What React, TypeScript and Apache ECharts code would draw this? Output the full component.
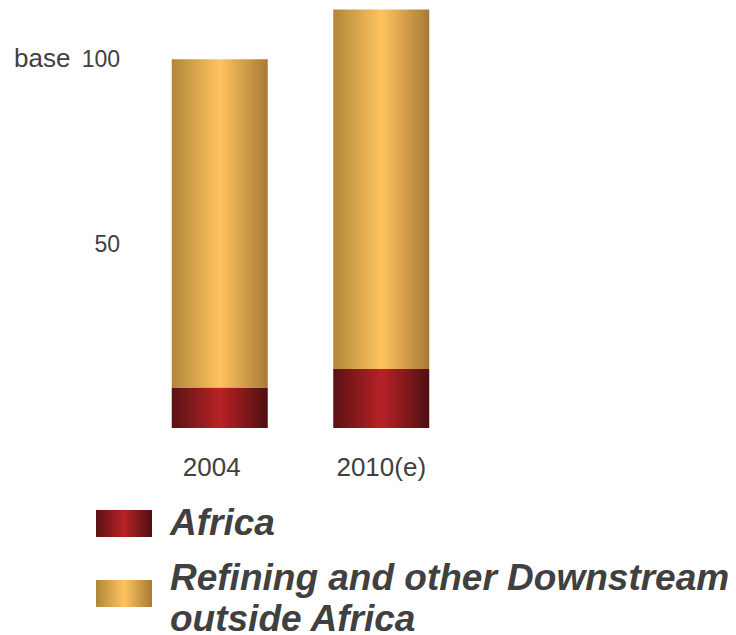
import React, { useEffect, useRef } from "react";
import * as echarts from "echarts";

const categories = ["2004", "2010(e)"];
const africaValues = [11, 16];
const downstreamValues = [89, 97.5];
const yTickLabels = [50, 100];
const legendNames = ["Africa", "Refining and other Downstream\noutside Africa"];

const redStops = ["#5a1214", "#b82226", "#4f0f11"];
const goldStops = ["#b08639", "#ffc35f", "#a77a34"];

function grad(stops: string[]) {
  return new echarts.graphic.LinearGradient(0, 0, 1, 0, [
    { offset: 0, color: stops[0] },
    { offset: 0.5, color: stops[1] },
    { offset: 1, color: stops[2] },
  ]);
}

export default function App() {
  const ref = useRef<HTMLDivElement>(null);
  useEffect(() => {
    if (!ref.current) return;
    const chart = echarts.init(ref.current, null, { renderer: "svg" });
    const font = "Liberation Sans";
    const textColor = "#404040";
    const legendText = (text: string, y: number) => ({
      type: "text",
      x: 170,
      y,
      style: {
        text,
        fontSize: 37,
        fontWeight: "bold",
        fontStyle: "italic",
        fontFamily: font,
        fill: textColor,
        verticalAlign: "middle",
      },
    });
    const secondLines = legendNames[1].split("\n");
    chart.setOption({
      animation: false,
      grid: { left: 139, right: 274, top: 4, bottom: 207, containLabel: false },
      xAxis: {
        type: "category",
        data: categories,
        axisLine: { show: false },
        axisTick: { show: false },
        axisLabel: {
          interval: 0,
          hideOverlap: false,
          color: textColor,
          fontSize: 26,
          fontFamily: font,
          margin: 26,
          formatter: (v: string, i: number) => (i === 0 ? `{a|${v}}` : `{b|${v}}`),
          rich: {
            a: { fontSize: 26, fontFamily: font, color: textColor, padding: [0, 16, 0, 0] },
            b: { fontSize: 26, fontFamily: font, color: textColor },
          },
        },
      },
      yAxis: {
        type: "value",
        min: 0,
        max: 115,
        interval: 50,
        splitLine: { show: false },
        axisLine: { show: false },
        axisTick: { show: false },
        axisLabel: {
          color: textColor,
          fontSize: 23,
          fontFamily: font,
          margin: 19,
          formatter: (v: number) => (yTickLabels.includes(v) ? String(v) : ""),
        },
      },
      series: [
        {
          name: legendNames[0],
          type: "bar",
          stack: "total",
          barWidth: 96,
          data: africaValues,
          itemStyle: { color: grad(redStops) },
        },
        {
          name: legendNames[1],
          type: "bar",
          stack: "total",
          barWidth: 96,
          data: downstreamValues,
          itemStyle: { color: grad(goldStops) },
        },
      ],
      graphic: [
        {
          type: "text",
          left: 14,
          top: 45,
          style: { text: "base", fontSize: 26, fontFamily: font, fill: textColor },
        },
        {
          type: "rect",
          shape: { x: 96, y: 510, width: 56, height: 27 },
          style: { fill: grad(redStops) },
        },
        {
          type: "rect",
          shape: { x: 96, y: 580, width: 56, height: 27 },
          style: { fill: grad(goldStops) },
        },
        legendText(legendNames[0], 522),
        legendText(secondLines[0], 577),
        legendText(secondLines[1], 618),
      ],
    });
    return () => chart.dispose();
  }, []);
  return <div ref={ref} style={{ width: 736, height: 635, position: "absolute", left: 0, top: 0 }} />;
}
